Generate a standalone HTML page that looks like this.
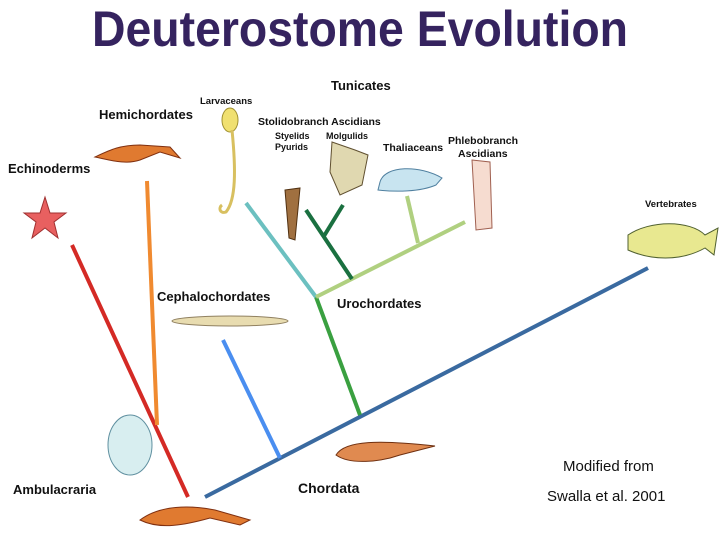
<!DOCTYPE html>
<html><head><style>body{margin:0;background:#fff}svg{display:block}text{font-family:"Liberation Sans",sans-serif;font-weight:bold}</style></head>
<body>
<svg width="721" height="539" viewBox="0 0 721 539" xmlns="http://www.w3.org/2000/svg">
<rect width="721" height="539" fill="#fff"/>
<text x="92" y="46" font-size="50" fill="#35235f" textLength="536" lengthAdjust="spacingAndGlyphs">Deuterostome Evolution</text>
<g font-size="13" fill="#111">
<text x="331" y="90" font-size="13">Tunicates</text>
<text x="99" y="119" font-size="13">Hemichordates</text>
<text x="8" y="173" font-size="13">Echinoderms</text>
<text x="200" y="104" font-size="9.5">Larvaceans</text>
<text x="258" y="125" font-size="10.5">Stolidobranch Ascidians</text>
<text x="275" y="139" font-size="9">Styelids</text>
<text x="275" y="150" font-size="9">Pyurids</text>
<text x="326" y="139" font-size="9">Molgulids</text>
<text x="383" y="151" font-size="10.5">Thaliaceans</text>
<text x="448" y="144" font-size="10.5">Phlebobranch</text>
<text x="458" y="157" font-size="10.5">Ascidians</text>
<text x="645" y="207" font-size="9.5">Vertebrates</text>
<text x="157" y="301" font-size="13">Cephalochordates</text>
<text x="337" y="308" font-size="13">Urochordates</text>
<text x="13" y="494" font-size="13">Ambulacraria</text>
<text x="298" y="493" font-size="14">Chordata</text>
</g>
<text x="563" y="471" font-size="15" style="font-weight:normal" fill="#111">Modified from</text>
<text x="547" y="501" font-size="15" style="font-weight:normal" fill="#111">Swalla et al. 2001</text>
<g stroke-width="4" fill="none" stroke-linecap="butt">
<line x1="72" y1="245" x2="188" y2="497" stroke="#d42a25"/>
<line x1="147" y1="181" x2="157" y2="425" stroke="#f08a30"/>
<line x1="205" y1="497" x2="648" y2="268" stroke="#3a6aa0"/>
<line x1="223" y1="340" x2="280" y2="458" stroke="#4a8ef0"/>
<line x1="360" y1="415" x2="316" y2="297" stroke="#3aa040"/>
<line x1="316" y1="297" x2="246" y2="203" stroke="#6cc0c0"/>
<line x1="316" y1="297" x2="465" y2="222" stroke="#b0d080"/>
<line x1="407" y1="196" x2="418" y2="243" stroke="#b0d080"/>
<line x1="306" y1="210" x2="352" y2="279" stroke="#1a7040"/>
<line x1="324" y1="236" x2="343" y2="205" stroke="#1a7040"/>
</g>
<polygon points="45,197 50,213 66,213 54,222 58,238 45,228 32,238 36,222 24,213 40,213" fill="#e86060" stroke="#a03030"/>
<path d="M95,157 C110,150 120,145 140,145 L170,147 L180,158 L160,152 L140,160 C125,165 110,160 95,157Z" fill="#e07a30" stroke="#803010"/>
<ellipse cx="230" cy="120" rx="8" ry="12" fill="#f0e070" stroke="#a09030"/>
<path d="M232,130 C236,170 236,200 226,212 C220,214 218,208 222,205" fill="none" stroke="#d8c060" stroke-width="3"/>
<path d="M285,190 L300,188 L295,240 L289,238Z" fill="#a07040" stroke="#503010"/>
<path d="M332,142 L355,150 L368,155 L362,185 L340,195 L330,172Z" fill="#e0d8b0" stroke="#605030"/>
<path d="M380,182 C385,165 420,165 442,178 L436,185 C420,192 395,192 378,190Z" fill="#c8e4f0" stroke="#5080a0"/>
<path d="M472,160 L490,162 L492,228 L476,230Z" fill="#f6dcd0" stroke="#a06050"/>
<path d="M628,235 C650,220 690,220 705,235 L718,228 L714,255 L705,248 C680,262 650,260 628,250Z" fill="#e8e890" stroke="#506030"/>
<ellipse cx="230" cy="321" rx="58" ry="5" fill="#e8dcb0" stroke="#908060"/>
<ellipse cx="130" cy="445" rx="22" ry="30" fill="#d8eef0" stroke="#6090a0"/>
<path d="M336,455 C345,440 380,440 435,446 L400,455 C380,462 350,465 336,455Z" fill="#e08a50" stroke="#703010"/>
<path d="M140,520 C160,505 190,505 215,510 L250,520 L240,525 L210,518 C185,525 160,530 140,520Z" fill="#e07a30" stroke="#803010"/>
</svg>
</body></html>
